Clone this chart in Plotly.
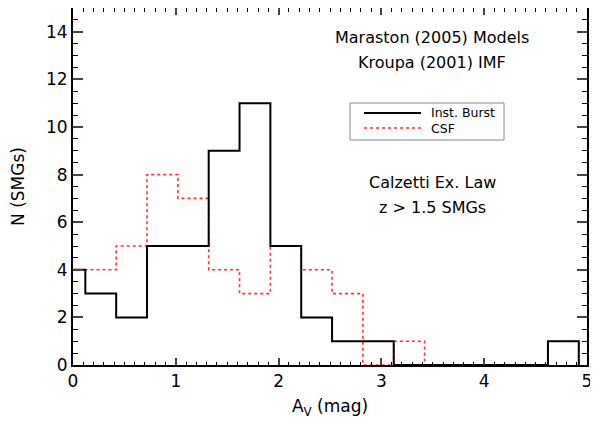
import plotly.graph_objects as go

# Histogram bin edges (A_V, mag), width 0.3
bin_edges = [-0.18, 0.12, 0.42, 0.72, 1.02, 1.32, 1.62, 1.92, 2.22, 2.52,
             2.82, 3.12, 3.42, 3.72, 4.02, 4.32, 4.62, 4.92]
inst_burst = [4, 3, 2, 5, 5, 9, 11, 5, 2, 1, 1, 0, 0, 0, 0, 0, 1]
csf = [4, 4, 5, 8, 7, 4, 3, 5, 4, 3, 0, 1, 0, 0, 0, 0, 1]
x_ticks = [0, 1, 2, 3, 4, 5]
y_ticks = [0, 2, 4, 6, 8, 10, 12, 14]


def steps(edges, counts):
    xs = list(edges) + [edges[-1]]
    ys = list(counts) + [counts[-1], 0]
    return xs, ys


fig = go.Figure()
xr, yr = steps(bin_edges, csf)
fig.add_trace(go.Scatter(x=xr, y=yr, mode="lines", line_shape="hv",
                         line=dict(color="#ff3030", width=1.6, dash="dot"),
                         showlegend=False))
xb, yb = steps(bin_edges, inst_burst)
fig.add_trace(go.Scatter(x=xb, y=yb, mode="lines", line_shape="hv",
                         line=dict(color="black", width=2),
                         showlegend=False))

font_family = "DejaVu Sans"
axis_common = dict(showline=True, linecolor="black", linewidth=2, mirror="allticks",
                   ticks="inside", showgrid=False, zeroline=False, automargin=False,
                   ticklabeloverflow="allow",
                   tickfont=dict(size=17, color="black", family=font_family))
fig.update_xaxes(range=[0, 5], tickvals=x_ticks, ticklen=7, tickwidth=1.5,
                 minor=dict(dtick=0.1, ticklen=3.5, ticks="inside", tickwidth=1.2, tickcolor="black"),
                 title=dict(text="A<sub>V</sub> (mag)", font=dict(size=17, family=font_family, color="black"),
                            standoff=10),
                 **axis_common)
fig.update_yaxes(range=[0, 15], tickvals=y_ticks, ticklen=10, tickwidth=1.5,
                 minor=dict(dtick=0.5, ticklen=5, ticks="inside", tickwidth=1.2, tickcolor="black"),
                 title=dict(text="N (SMGs)", font=dict(size=17, family=font_family, color="black"),
                            standoff=20),
                 **axis_common)

ann_font = dict(size=16, family=font_family, color="black")
annotations = [
    dict(text="Maraston (2005) Models", x=432, y=37),
    dict(text="Kroupa (2001) IMF", x=432, y=62),
    dict(text="Calzetti Ex. Law", x=432, y=182),
    dict(text="z > 1.5 SMGs", x=432, y=207),
]

# page has an 8px body margin; plot area in page pixels: x 73..587, y 8..365
X0, X1, Y0, Y1 = 73, 587, 8, 365


def px(xp):
    return (xp - X0) / (X1 - X0)


def py(yp):
    return (Y1 - yp) / (Y1 - Y0)


for a in annotations:
    fig.add_annotation(text=a["text"], xref="paper", yref="paper",
                       x=px(a["x"]), y=py(a["y"]),
                       showarrow=False, font=ann_font, xanchor="center", yanchor="middle")

# Legend box drawn manually
fig.add_shape(type="rect", xref="paper", yref="paper", x0=px(350), x1=px(504),
              y0=py(140), y1=py(103), line=dict(color="#888888", width=1))
fig.add_shape(type="line", xref="paper", yref="paper", x0=px(364), x1=px(421),
              y0=py(113), y1=py(113), line=dict(color="black", width=2))
fig.add_shape(type="line", xref="paper", yref="paper", x0=px(364), x1=px(421),
              y0=py(128), y1=py(128), line=dict(color="#ff3030", width=1.5, dash="dot"))
leg_font = dict(size=12.5, family=font_family, color="black")
fig.add_annotation(text="Inst. Burst", xref="paper", yref="paper", x=px(429), y=py(113),
                   showarrow=False, font=leg_font, xanchor="left", yanchor="middle")
fig.add_annotation(text="CSF", xref="paper", yref="paper", x=px(429), y=py(128),
                   showarrow=False, font=leg_font, xanchor="left", yanchor="middle")

fig.update_layout(width=590, height=414, margin=dict(l=65, r=11, t=0, b=57),
                  paper_bgcolor="white", plot_bgcolor="white", showlegend=False)
fig.write_html("out.html")
